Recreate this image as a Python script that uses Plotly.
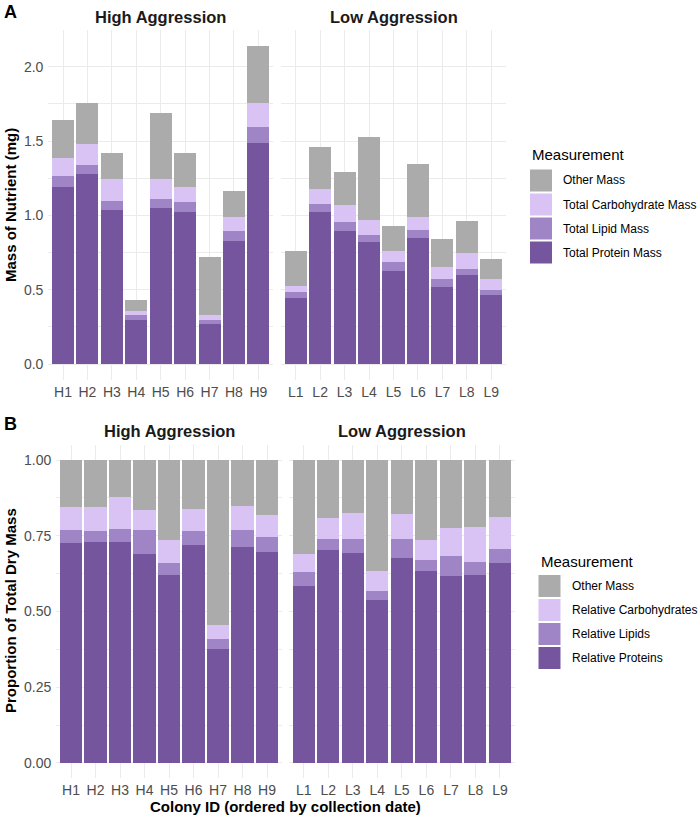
import plotly.graph_objects as go

# ---------------- data ----------------
high_ids = ["H1", "H2", "H3", "H4", "H5", "H6", "H7", "H8", "H9"]
low_ids = ["L1", "L2", "L3", "L4", "L5", "L6", "L7", "L8", "L9"]

# absolute masses (mg)
high_protein = [1.192, 1.279, 1.037, 0.295, 1.051, 1.024, 0.270, 0.830, 1.488]
high_lipid = [0.074, 0.061, 0.059, 0.034, 0.062, 0.067, 0.025, 0.066, 0.108]
high_carb = [0.121, 0.141, 0.150, 0.029, 0.133, 0.101, 0.032, 0.094, 0.160]
high_other = [0.256, 0.272, 0.175, 0.070, 0.444, 0.231, 0.393, 0.175, 0.385]

low_protein = [0.445, 1.024, 0.898, 0.822, 0.628, 0.851, 0.519, 0.599, 0.467]
low_lipid = [0.037, 0.056, 0.058, 0.047, 0.057, 0.051, 0.055, 0.039, 0.033]
low_carb = [0.045, 0.098, 0.115, 0.101, 0.076, 0.088, 0.079, 0.112, 0.074]
low_other = [0.236, 0.281, 0.224, 0.559, 0.166, 0.355, 0.187, 0.213, 0.133]

labels_abs = ["Total Protein Mass", "Total Lipid Mass", "Total Carbohydrate Mass", "Other Mass"]
labels_rel = ["Relative Proteins", "Relative Lipids", "Relative Carbohydrates", "Other Mass"]
colors = ["#74559E", "#9F84C6", "#D8C3F4", "#ABABAB"]

panel_titles = ["High Aggression", "Low Aggression"]

# ---------------- helpers ----------------
W, H = 698, 818
def fx(px):
    return px / W
def fy(py):
    return 1 - py / H

def rel(series):
    totals = [sum(v) for v in zip(*series)]
    return [[v / t for v, t in zip(s, totals)] for s in series]

high_abs = [high_protein, high_lipid, high_carb, high_other]
low_abs = [low_protein, low_lipid, low_carb, low_other]
high_rel = rel(high_abs)
low_rel = rel(low_abs)

fig = go.Figure()

panels = [
    (high_ids, high_abs, "x", "y"),
    (low_ids, low_abs, "x2", "y2"),
    (high_ids, high_rel, "x3", "y3"),
    (low_ids, low_rel, "x4", "y4"),
]
for ids, series, xa, ya in panels:
    for k, vals in enumerate(series):
        fig.add_trace(go.Bar(
            x=ids, y=vals, xaxis=xa, yaxis=ya,
            marker=dict(color=colors[k], line=dict(width=0)),
            width=0.9, showlegend=False,
            name=(labels_abs if ya in ("y", "y2") else labels_rel)[k],
        ))

FONT = "Liberation Sans, Arial, sans-serif"
grid = "#EBEBEB"

xcommon = dict(type="category", range=[-0.6, 8.6], showgrid=True, gridcolor=grid,
               gridwidth=1.1, zeroline=False, showline=False, ticks="",
               tickfont=dict(size=14, color="#4D4D4D", family=FONT),
               ticklabelstandoff=2, fixedrange=True)
ycommonA = dict(range=[-0.107, 2.247], tick0=0, dtick=0.5, tickformat=".1f",
                showgrid=True, gridcolor=grid, gridwidth=1.1, zeroline=False,
                showline=False, ticks="",
                minor=dict(dtick=0.25, tick0=0, showgrid=True, gridcolor=grid, gridwidth=0.55),
                tickfont=dict(size=14, color="#4D4D4D", family=FONT),
                ticklabelstandoff=4)
ycommonB = dict(range=[-0.05, 1.05], tick0=0, dtick=0.25, tickformat=".2f",
                showgrid=True, gridcolor=grid, gridwidth=1.1, zeroline=False,
                showline=False, ticks="",
                minor=dict(dtick=0.125, tick0=0, showgrid=True, gridcolor=grid, gridwidth=0.55),
                tickfont=dict(size=14, color="#4D4D4D", family=FONT),
                ticklabelstandoff=4)

yA = [fy(380), fy(30)]
yB = [fy(778), fy(445)]

fig.update_layout(
    width=W, height=H,
    margin=dict(l=0, r=0, t=0, b=0),
    paper_bgcolor="white", plot_bgcolor="white",
    barmode="stack", bargap=0.1,
    font=dict(family=FONT),
    xaxis=dict(xcommon, domain=[fx(48.4), fx(273)], anchor="y"),
    xaxis2=dict(xcommon, domain=[fx(281), fx(506)], anchor="y2"),
    xaxis3=dict(xcommon, domain=[fx(56.3), fx(281.7)], anchor="y3"),
    xaxis4=dict(xcommon, domain=[fx(289), fx(514.7)], anchor="y4"),
    yaxis=dict(ycommonA, domain=yA, anchor="x"),
    yaxis2=dict(ycommonA, domain=yA, anchor="x2", showticklabels=False),
    yaxis3=dict(ycommonB, domain=yB, anchor="x3"),
    yaxis4=dict(ycommonB, domain=yB, anchor="x4", showticklabels=False),
)

ann = []
def text(x, y, s, size, bold=False, color="#000000", angle=0, xanchor="center"):
    ann.append(dict(x=fx(x), y=fy(y), xref="paper", yref="paper", text=f"<b>{s}</b>" if bold else s,
                    showarrow=False, textangle=angle, xanchor=xanchor, yanchor="middle",
                    font=dict(size=size, color=color, family=FONT)))

# panel labels
text(10, 12, "A", 18, bold=True)
text(10, 424, "B", 18, bold=True)
# strip titles
text(160.7, 17, panel_titles[0], 16.5, bold=True, color="#1A1A1A")
text(393.5, 17, panel_titles[1], 16.5, bold=True, color="#1A1A1A")
text(169, 431, panel_titles[0], 16.5, bold=True, color="#1A1A1A")
text(402, 431, panel_titles[1], 16.5, bold=True, color="#1A1A1A")
# axis titles
text(10, 205, "Mass of Nutrient (mg)", 15, bold=True, angle=-90)
text(10, 611, "Proportion of Total Dry Mass", 15, bold=True, angle=-90)
text(285.5, 806, "Colony ID (ordered by collection date)", 15, bold=True)

shapes = []
def legend(x0, title_y, first_y, labels):
    text(x0, title_y, "Measurement", 15, xanchor="left", color="#000000")
    order = [3, 2, 1, 0]
    for i, k in enumerate(order):
        top = first_y + i * 24
        shapes.append(dict(type="rect", xref="paper", yref="paper",
                           x0=fx(x0), x1=fx(x0 + 22), y0=fy(top + 22), y1=fy(top),
                           fillcolor=colors[k], line=dict(width=0)))
        text(x0 + 31, top + 11, labels[k], 12, xanchor="left", color="#000000")

legend(530, 155, 169.5, labels_abs)
legend(538.5, 561, 575, labels_rel)

fig.update_layout(annotations=ann, shapes=shapes)
fig.write_html("out.html")
